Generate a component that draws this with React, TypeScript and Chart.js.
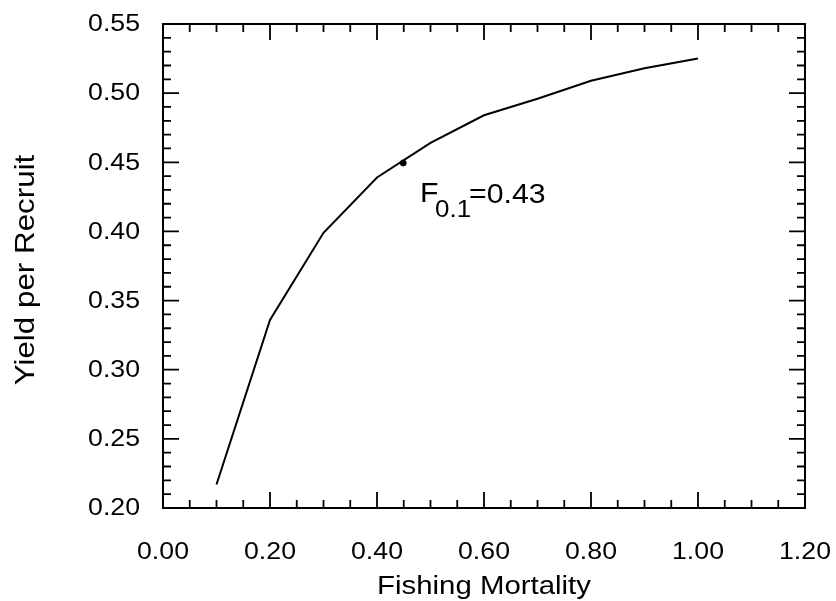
import React, { useEffect, useRef } from "react";
import { Chart, registerables } from "chart.js";

Chart.register(...registerables);

// ---- data ----
const fishingMortality = [0.1, 0.2, 0.3, 0.4, 0.5, 0.6, 0.7, 0.8, 0.9, 1.0];
const yieldPerRecruit = [0.217, 0.336, 0.399, 0.439, 0.464, 0.484, 0.496, 0.509, 0.518, 0.525];
const f01X = [0.449];
const f01Y = [0.4495];
const xTickValues = [0, 0.2, 0.4, 0.6, 0.8, 1.0, 1.2];
const xTickLabels = ["0.00", "0.20", "0.40", "0.60", "0.80", "1.00", "1.20"];
const yTickValues = [0.2, 0.25, 0.3, 0.35, 0.4, 0.45, 0.5, 0.55];
const yTickLabels = ["0.20", "0.25", "0.30", "0.35", "0.40", "0.45", "0.50", "0.55"];
const xTitle = "Fishing Mortality";
const yTitle = "Yield per Recruit";
const annotationMain = "F";
const annotationSub = "0.1";
const annotationRest = "=0.43";
const annotationAt = { x: 0.4804, y: 0.4213 };

const FONT = "'Liberation Sans', Arial, sans-serif";

function drawStretched(
  ctx: CanvasRenderingContext2D,
  text: string,
  x: number,
  y: number,
  align: CanvasTextAlign,
  sx: number
) {
  ctx.save();
  ctx.translate(x, y);
  ctx.scale(sx, 1);
  ctx.textAlign = align;
  ctx.fillText(text, 0, 0);
  ctx.restore();
}

const framePlugin = {
  id: "framePlugin",
  afterDraw(chart: any) {
    const ctx: CanvasRenderingContext2D = chart.ctx;
    const { left, right, top, bottom } = chart.chartArea;
    const xs = chart.scales.x;
    const ys = chart.scales.y;
    ctx.save();
    ctx.strokeStyle = "#000";
    ctx.fillStyle = "#000";
    ctx.lineWidth = 2;
    ctx.strokeRect(left, top, right - left, bottom - top);

    // inward ticks, all four sides
    ctx.lineWidth = 1.8;
    ctx.beginPath();
    for (let i = 0; i <= 24; i++) {
      const v = i * 0.05;
      const px = xs.getPixelForValue(v);
      const len = i % 4 === 0 ? 16 : 8;
      ctx.moveTo(px, bottom);
      ctx.lineTo(px, bottom - len);
      ctx.moveTo(px, top);
      ctx.lineTo(px, top + len);
    }
    for (let i = 0; i <= 35; i++) {
      const v = 0.2 + i * 0.01;
      const py = ys.getPixelForValue(v);
      const len = i % 5 === 0 ? 16 : 8;
      ctx.moveTo(left, py);
      ctx.lineTo(left + len, py);
      ctx.moveTo(right, py);
      ctx.lineTo(right - len, py);
    }
    ctx.stroke();

    // tick labels
    ctx.font = `23px ${FONT}`;
    ctx.textBaseline = "alphabetic";
    xTickValues.forEach((v, i) => {
      drawStretched(ctx, xTickLabels[i], xs.getPixelForValue(v), 559, "center", 1.16);
    });
    ctx.textBaseline = "middle";
    yTickValues.forEach((v, i) => {
      drawStretched(ctx, yTickLabels[i], left - 23, ys.getPixelForValue(v) + 1, "right", 1.16);
    });

    // axis titles
    ctx.textBaseline = "alphabetic";
    ctx.font = `26px ${FONT}`;
    drawStretched(ctx, xTitle, (left + right) / 2, 594, "center", 1.13);

    ctx.save();
    ctx.font = `28px ${FONT}`;
    ctx.translate(34, (top + bottom) / 2 + 4);
    ctx.rotate(-Math.PI / 2);
    ctx.scale(1.12, 1);
    ctx.textAlign = "center";
    ctx.fillText(yTitle, 0, 0);
    ctx.restore();

    // annotation
    const ax = xs.getPixelForValue(annotationAt.x);
    const ay = ys.getPixelForValue(annotationAt.y);
    ctx.font = `28px ${FONT}`;
    drawStretched(ctx, annotationMain, ax, ay, "left", 1.08);
    ctx.font = `24px ${FONT}`;
    drawStretched(ctx, annotationSub, ax + 15, ay + 15, "left", 1.08);
    ctx.font = `28px ${FONT}`;
    drawStretched(ctx, annotationRest, ax + 49, ay + 1, "left", 1.08);
    ctx.restore();
  },
};

export default function App() {
  const ref = useRef<HTMLCanvasElement | null>(null);
  useEffect(() => {
    document.body.style.margin = "0";
    const canvas = ref.current;
    if (!canvas) return;
    const chart = new Chart(canvas, {
      type: "scatter",
      data: {
        datasets: [
          {
            data: fishingMortality.map((x, i) => ({ x, y: yieldPerRecruit[i] })),
            showLine: true,
            borderColor: "#000",
            borderWidth: 2,
            pointRadius: 0,
            tension: 0,
          },
          {
            data: f01X.map((x, i) => ({ x, y: f01Y[i] })),
            showLine: false,
            backgroundColor: "#000",
            borderColor: "#000",
            pointRadius: 3,
          },
        ],
      },
      options: {
        responsive: false,
        animation: false,
        devicePixelRatio: 1,
        layout: { padding: { top: 24, right: 31, left: 0, bottom: 0 } },
        plugins: { legend: { display: false }, tooltip: { enabled: false } },
        scales: {
          x: {
            type: "linear",
            min: 0,
            max: 1.2,
            ticks: { display: false },
            grid: { display: false, drawTicks: false },
            border: { display: false },
            afterFit: (s: any) => {
              s.height = 93;
            },
          },
          y: {
            type: "linear",
            min: 0.2,
            max: 0.55,
            ticks: { display: false },
            grid: { display: false, drawTicks: false },
            border: { display: false },
            afterFit: (s: any) => {
              s.width = 163;
            },
          },
        },
      },
      plugins: [framePlugin],
    } as any);
    return () => chart.destroy();
  }, []);
  return (
    <div style={{ position: "fixed", left: 0, top: 0, width: 836, height: 601, background: "#fff" }}>
      <canvas ref={ref} width={836} height={601} style={{ width: 836, height: 601, display: "block" }} />
    </div>
  );
}
